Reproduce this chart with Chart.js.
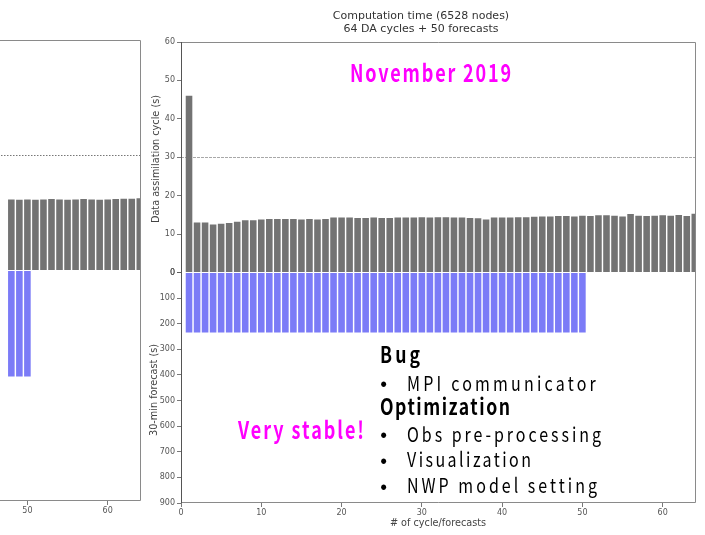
<!DOCTYPE html>
<html>
<head>
<meta charset="utf-8">
<script src="https://cdn.jsdelivr.net/npm/chart.js@4.4.1/dist/chart.umd.min.js"></script>
<style>
html,body{margin:0;padding:0;background:#fff;}
#wrap{position:relative;width:705px;height:535px;overflow:hidden;background:#fff;}
.layer{position:absolute;width:705px;height:535px;}
#prev{left:-555px;top:-2px;}
#main{left:0;top:0;}
#txt{position:absolute;left:0;top:0;}
</style>
</head>
<body>
<div id="wrap">
  <div class="layer" id="prev"><canvas id="cPrev" width="705" height="535"></canvas></div>
  <div class="layer" id="main"><canvas id="cMain" width="705" height="535"></canvas></div>
  <svg id="txt" width="705" height="535" xmlns="http://www.w3.org/2000/svg">
    <g font-family="DejaVu Sans" fill="#333" font-size="11" text-anchor="middle">
      <text x="421" y="19">Computation time (6528 nodes)</text>
      <text x="421" y="32">64 DA cycles + 50 forecasts</text>
    </g>
    <g font-family="DejaVu Sans" fill="#444" font-size="9.7" text-anchor="middle">
      <text transform="translate(159,159) rotate(-90)">Data assimilation cycle (s)</text>
      <text transform="translate(156.5,390) rotate(-90)">30-min forecast (s)</text>
      <text x="438" y="525.5"># of cycle/forecasts</text>
    </g>
    <g font-family="Noto Sans CJK JP" font-weight="bold" fill="#ff00ff" font-size="24">
      <g transform="translate(350,81.7) scale(0.75,1)"><text x="0" y="0" textLength="214.7" lengthAdjust="spacing">November 2019</text></g>
      <g transform="translate(238,439.3) scale(0.75,1)"><text x="0" y="0" textLength="168" lengthAdjust="spacing">Very stable!</text></g>
    </g>
    <g font-family="Noto Sans CJK JP" fill="#000">
      <g transform="translate(380,363.3) scale(0.8,1)"><text x="0" y="0" font-size="22" font-weight="bold" textLength="50" lengthAdjust="spacing">Bug</text></g>
      <text x="383.7" y="389.5" font-size="20" text-anchor="middle">•</text>
      <g transform="translate(407,390.5) scale(0.8,1)"><text x="0" y="0" font-size="20" textLength="236" lengthAdjust="spacing">MPI communicator</text></g>
      <g transform="translate(380,415.3) scale(0.8,1)"><text x="0" y="0" font-size="22" font-weight="bold" textLength="162.5" lengthAdjust="spacing">Optimization</text></g>
      <text x="383.7" y="440.5" font-size="20" text-anchor="middle">•</text>
      <g transform="translate(407,441.5) scale(0.8,1)"><text x="0" y="0" font-size="20" textLength="242.5" lengthAdjust="spacing">Obs pre-processing</text></g>
      <text x="383.7" y="466.5" font-size="20" text-anchor="middle">•</text>
      <g transform="translate(407,467.3) scale(0.8,1)"><text x="0" y="0" font-size="20" textLength="155" lengthAdjust="spacing">Visualization</text></g>
      <text x="383.7" y="492.5" font-size="20" text-anchor="middle">•</text>
      <g transform="translate(407,493.3) scale(0.8,1)"><text x="0" y="0" font-size="20" textLength="237.5" lengthAdjust="spacing">NWP model setting</text></g>
    </g>
  </svg>
</div>
<script>
// ---- data (November 2019, main panel) ----
const cycles = [1,2,3,4,5,6,7,8,9,10,11,12,13,14,15,16,17,18,19,20,21,22,23,24,25,26,27,28,29,30,31,32,
  33,34,35,36,37,38,39,40,41,42,43,44,45,46,47,48,49,50,51,52,53,54,55,56,57,58,59,60,61,62,63,64];
const daCycleSec = [46.0,13.0,13.0,12.5,12.7,12.9,13.2,13.6,13.6,13.8,13.9,13.9,13.9,13.9,13.8,13.9,
  13.8,13.9,14.3,14.3,14.3,14.2,14.2,14.3,14.2,14.2,14.3,14.3,14.3,14.4,14.3,14.4,
  14.4,14.3,14.3,14.2,14.1,13.8,14.3,14.3,14.3,14.4,14.4,14.5,14.6,14.6,14.7,14.7,
  14.6,14.8,14.7,14.9,14.9,14.8,14.6,15.2,14.8,14.7,14.8,14.9,14.8,15.0,14.7,15.3];
const forecastCycles = [1,2,3,4,5,6,7,8,9,10,11,12,13,14,15,16,17,18,19,20,21,22,23,24,25,
  26,27,28,29,30,31,32,33,34,35,36,37,38,39,40,41,42,43,44,45,46,47,48,49,50];
const forecastSec = [234,234,234,234,234,234,234,234,234,234,234,234,234,234,234,234,234,234,234,234,
  234,234,234,234,234,234,234,234,234,234,234,234,234,234,234,234,234,234,234,234,
  234,234,234,234,234,234,234,234,234,234];

// ---- data (previous panel, only the visible part) ----
const prevCycles = [48,49,50,51,52,53,54,55,56,57,58,59,60,61,62,63,64];
const prevDaSec = [18.5,18.4,18.5,18.4,18.5,18.6,18.5,18.4,18.5,18.6,18.5,18.4,18.5,18.6,18.7,18.7,18.8];
const prevForecastCycles = [48,49,50];
const prevForecastSec = [414,414,414];

// ---- ticks / reference ----
const xTicks = [0,10,20,30,40,50,60];
const daTicks = [0,10,20,30,40,50,60];
const forecastTicks = [0,100,200,300,400,500,600,700,800,900];
const refLine = 30;

const grayBar = '#737373';
const blueBar = '#7b7bf7';

const framePlugin = {
  id: 'frame',
  beforeDatasetsDraw(chart, args, opts) {
    const {ctx, chartArea: a, scales} = chart;
    const y = Math.round(scales.yD.getPixelForValue(refLine)) + 0.5;
    ctx.save();
    ctx.strokeStyle = opts.refColor;
    ctx.lineWidth = 1;
    ctx.setLineDash(opts.refDash);
    ctx.beginPath();
    ctx.moveTo(a.left, y);
    ctx.lineTo(a.right, y);
    ctx.stroke();
    ctx.restore();
  },
  afterDatasetsDraw(chart) {
    const {ctx, chartArea: a} = chart;
    ctx.save();
    ctx.lineWidth = 1;
    ctx.strokeStyle = '#8a8a8a';
    ctx.beginPath();
    ctx.moveTo(a.left, Math.round(a.top) + 0.5);
    ctx.lineTo(Math.round(a.right) - 0.5, Math.round(a.top) + 0.5);
    ctx.lineTo(Math.round(a.right) - 0.5, Math.round(a.bottom) - 0.5);
    ctx.lineTo(a.left, Math.round(a.bottom) - 0.5);
    ctx.stroke();
    ctx.strokeStyle = '#555';
    ctx.beginPath();
    ctx.moveTo(Math.round(a.left) + 0.5, a.top);
    ctx.lineTo(Math.round(a.left) + 0.5, a.bottom);
    ctx.stroke();
    ctx.restore();
  }
};

function buildChart(id, daX, daY, fcX, fcY, refColor, refDash) {
  const pts = (xs, ys) => xs.map((x, i) => ({x: x, y: ys[i]}));
  const tickFont = {family: 'DejaVu Sans', size: 8};
  const tickGrid = () => ({display: true, drawOnChartArea: false, drawTicks: true, tickLength: 4, color: '#555', lineWidth: 0.8, offset: false});
  const setTicks = arr => s => { s.ticks = arr.map(v => ({value: v})); };
  return new Chart(document.getElementById(id), {
    type: 'bar',
    data: {
      datasets: [
        {label: 'Data assimilation cycle (s)', data: pts(daX, daY), xAxisID: 'x', yAxisID: 'yD',
         backgroundColor: grayBar, borderWidth: 0, grouped: false, categoryPercentage: 0.82, barPercentage: 1},
        {label: '30-min forecast (s)', data: pts(fcX, fcY), xAxisID: 'x', yAxisID: 'yF',
         backgroundColor: blueBar, borderWidth: 0, grouped: false, categoryPercentage: 0.82, barPercentage: 1}
      ]
    },
    options: {
      responsive: false, animation: false, devicePixelRatio: 1,
      layout: {padding: {left: 0, top: 42, right: 9, bottom: 0}},
      plugins: {legend: {display: false}, tooltip: {enabled: false}, title: {display: false},
                frame: {refColor: refColor, refDash: refDash}},
      scales: {
        x: {type: 'linear', position: 'bottom', min: 0, max: 64.15, offset: false,
            afterBuildTicks: setTicks(xTicks), afterFit: s => { s.height = 32; },
            grid: tickGrid(), border: {display: false},
            ticks: {font: tickFont, color: '#555', padding: 1, maxRotation: 0, autoSkip: false}},
        yF: {type: 'linear', position: 'left', stack: 'v', stackWeight: 1, weight: 0, reverse: true, min: 0, max: 900,
            afterBuildTicks: setTicks(forecastTicks), afterFit: s => { s.width = 181; },
            grid: tickGrid(), border: {display: false},
            ticks: {font: tickFont, color: '#555', padding: 2, autoSkip: false}},
        yD: {type: 'linear', position: 'left', stack: 'v', stackWeight: 1, weight: 1, min: 0, max: 60,
            afterBuildTicks: setTicks(daTicks), afterFit: s => { s.width = 181; },
            grid: tickGrid(), border: {display: false},
            ticks: {font: tickFont, color: '#555', padding: 2, autoSkip: false}}
      }
    },
    plugins: [framePlugin]
  });
}

buildChart('cPrev', prevCycles, prevDaSec, prevForecastCycles, prevForecastSec, '#777', [1.5, 1.5]);
buildChart('cMain', cycles, daCycleSec, forecastCycles, forecastSec, '#a8a8a8', [3, 1]);
</script>
</body>
</html>
